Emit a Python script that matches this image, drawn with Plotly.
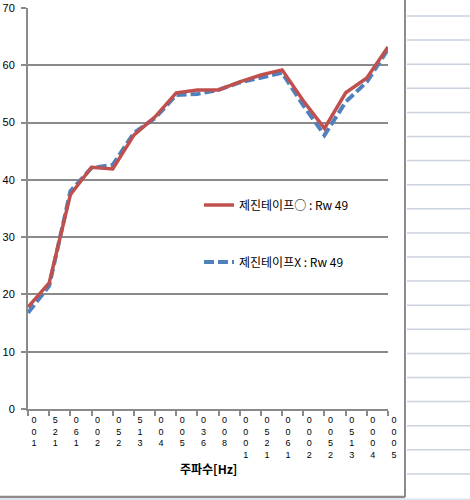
import plotly.graph_objects as go

# ---- data ----
freq_labels = ["100", "125", "160", "200", "250", "315", "400", "500", "630",
               "800", "1000", "1250", "1600", "2000", "2500", "3150", "4000", "5000"]
tape_o = [17.8, 22.0, 37.4, 42.2, 41.9, 47.8, 51.0, 55.2, 55.7,
          55.7, 57.1, 58.3, 59.2, 53.8, 49.0, 55.2, 57.8, 63.2]
tape_x = [16.8, 21.5, 38.0, 42.1, 42.6, 48.2, 50.8, 54.8, 55.0,
          55.7, 57.0, 57.9, 58.7, 53.0, 47.8, 53.6, 57.1, 62.8]
y_ticks = [0, 10, 20, 30, 40, 50, 60, 70]
name_o = "제진테이프○ : Rw 49"
name_x = "제진테이프X : Rw 49"
x_title = "주파수[Hz]"

# ---- layout geometry ----
W, H = 470, 500
L, R, T, B = 28, 82, 8, 91
PW, PH = W - L - R, H - T - B


def px2x(px):
    return (px - L) / PW


def px2y(py):
    return (H - B - py) / PH


FONT = "Noto Sans CJK KR, Noto Sans, sans-serif"
NUMFONT = "Liberation Sans, Arial, sans-serif"
GRID = "#8a8a8a"
xs = list(range(len(freq_labels)))
stacked = ["<br>".join(reversed(s)) for s in freq_labels]

fig = go.Figure()
fig.add_trace(go.Scatter(
    x=xs, y=tape_x, mode="lines", name=name_x, legend="legend2",
    line=dict(color="#4F81BD", width=4, dash="10px,4px"), cliponaxis=False))
fig.add_trace(go.Scatter(
    x=xs, y=tape_o, mode="lines", name=name_o, legend="legend",
    line=dict(color="#C0504D", width=3.5), cliponaxis=False))

shapes = []
# chart-area border (right and bottom)
shapes.append(dict(type="line", xref="paper", yref="paper",
                   x0=px2x(405), x1=px2x(405), y0=px2y(0), y1=px2y(497),
                   line=dict(color="#8c8c8c", width=2)))
shapes.append(dict(type="line", xref="paper", yref="paper",
                   x0=px2x(0), x1=px2x(405), y0=px2y(497), y1=px2y(497),
                   line=dict(color="#8c8c8c", width=2.5)))
# worksheet rows visible to the right
for k in range(20):
    yy = 16 + 24.1 * k
    shapes.append(dict(type="line", xref="paper", yref="paper",
                       x0=px2x(407), x1=px2x(470), y0=px2y(yy), y1=px2y(yy),
                       line=dict(color="#c9d2de", width=1.5)))
shapes.append(dict(type="rect", xref="paper", yref="paper",
                   x0=px2x(0), x1=px2x(470), y0=px2y(498.5), y1=px2y(500),
                   line=dict(width=0), fillcolor="#dde5ef"))

fig.update_layout(
    width=W, height=H,
    margin=dict(l=L, r=R, t=T, b=B, autoexpand=False),
    paper_bgcolor="white", plot_bgcolor="white",
    font=dict(family=FONT, size=11, color="#000000"),
    shapes=shapes,
    showlegend=True,
    legend=dict(x=px2x(199), y=px2y(205), xanchor="left", yanchor="middle",
                bgcolor="rgba(0,0,0,0)", font=dict(size=12), borderwidth=0),
    legend2=dict(x=px2x(199), y=px2y(262), xanchor="left", yanchor="middle",
                 bgcolor="rgba(0,0,0,0)", font=dict(size=12), borderwidth=0),
    annotations=[dict(text="<b>" + x_title + "</b>", xref="paper", yref="paper",
                      x=px2x(208), y=px2y(468), xanchor="center", yanchor="middle",
                      showarrow=False, font=dict(size=12))],
    xaxis=dict(
        range=[0, len(freq_labels) - 1], tickmode="array", tickvals=xs,
        ticktext=stacked, tickangle=0,
        tickfont=dict(size=9, family=NUMFONT),
        ticklabelshift=6, ticklabelstandoff=-4, automargin=False,
        showgrid=False, zeroline=False, showline=True,
        linecolor=GRID, linewidth=2, ticks="outside", ticklen=5,
        tickcolor=GRID, tickwidth=1.5,
    ),
    yaxis=dict(
        range=[0, 70], tickmode="array", tickvals=y_ticks, automargin=False,
        showgrid=True, gridcolor=GRID, gridwidth=2, zeroline=False,
        showline=True, linecolor=GRID, linewidth=2, ticks="outside",
        ticklen=5, tickcolor=GRID, tickwidth=1.5,
        tickfont=dict(size=11, family=NUMFONT),
        ticklabelstandoff=4,
    ),
)

fig.write_html("out.html", config={"displayModeBar": False},
               post_script="document.body.style.margin='0';"
                           "document.body.style.overflow='hidden';")
